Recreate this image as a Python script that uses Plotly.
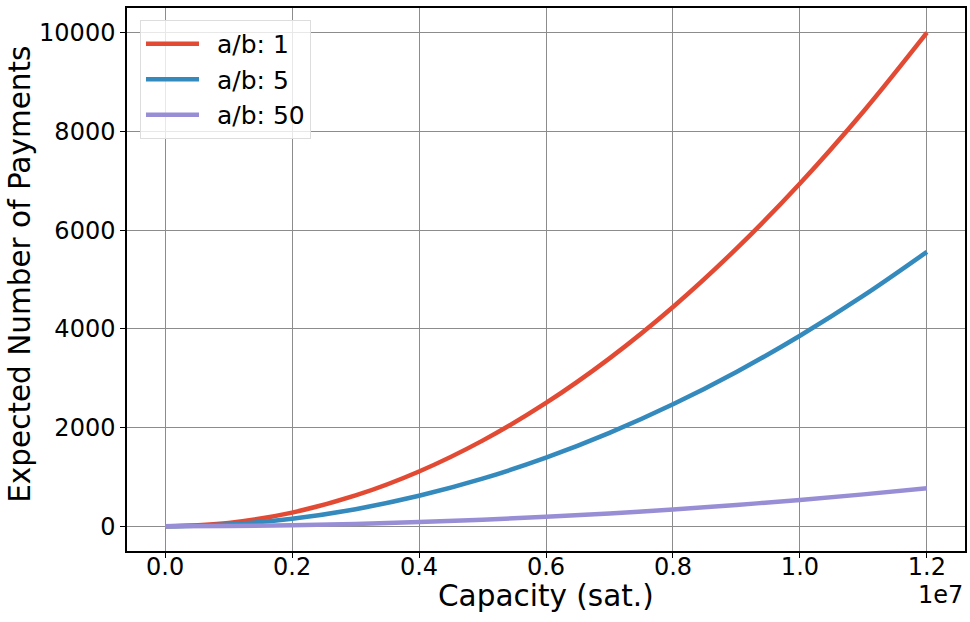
import plotly.graph_objects as go

capacity = [0, 0.1e7, 0.2e7, 0.3e7, 0.4e7, 0.5e7, 0.6e7, 0.7e7, 0.8e7, 0.9e7, 1.0e7, 1.1e7, 1.2e7]
series_names = ["a/b: 1", "a/b: 5", "a/b: 50"]
payments_ab1 = [0, 69, 278, 625, 1111, 1736, 2500, 3403, 4444, 5625, 6944, 8403, 10000]
payments_ab5 = [0, 39, 154, 347, 618, 965, 1390, 1892, 2471, 3127, 3861, 4672, 5560]
payments_ab50 = [0, 5, 21, 48, 86, 134, 193, 262, 342, 433, 535, 647, 770]
colors = ["#E24A33", "#348ABD", "#988ED5"]
x_ticks = [0, 0.2e7, 0.4e7, 0.6e7, 0.8e7, 1.0e7, 1.2e7]
x_tick_labels = ["0.0", "0.2", "0.4", "0.6", "0.8", "1.0", "1.2"]
y_ticks = [0, 2000, 4000, 6000, 8000, 10000]
y_tick_labels = ["0", "2000", "4000", "6000", "8000", "10000"]

fig = go.Figure()
for name, ys, c in zip(series_names, [payments_ab1, payments_ab5, payments_ab50], colors):
    fig.add_trace(go.Scatter(x=capacity, y=ys, mode="lines", name="\u00a0\u2009" + name,
                             line=dict(color=c, width=4.5, shape="spline")))

font = "DejaVu Sans"
fig.update_layout(
    width=970, height=622,
    margin=dict(l=127, r=5, t=8, b=71, autoexpand=False),
    paper_bgcolor="white", plot_bgcolor="white",
    font=dict(family=font, size=24, color="black"),
    showlegend=True,
    legend=dict(x=0.0155, y=0.978, xanchor="left", yanchor="top",
                bgcolor="rgba(255,255,255,0.8)", bordercolor="#dddddd", borderwidth=1,
                font=dict(family=font, size=25), itemwidth=53),
    xaxis=dict(range=[-0.06e7, 1.26e7], tickvals=x_ticks, ticktext=x_tick_labels,
               tickfont=dict(family=font, size=24), ticklabelstandoff=-12,
               showgrid=True, gridcolor="#8c8c8c", gridwidth=1,
               showline=True, linecolor="black", linewidth=1.5, mirror=True,
               ticks="outside", ticklen=5, tickcolor="black", zeroline=False,
               automargin=False),
    yaxis=dict(range=[-500, 10500], tickvals=y_ticks, ticktext=y_tick_labels,
               tickfont=dict(family=font, size=24),
               showgrid=True, gridcolor="#8c8c8c", gridwidth=1,
               showline=True, linecolor="black", linewidth=1.5, mirror=True,
               ticks="outside", ticklen=5, tickcolor="black", zeroline=False,
               automargin=False),
)
fig.add_annotation(text="Capacity (sat.)", xref="paper", yref="paper", x=0.5, y=-0.082,
                   xanchor="center", yanchor="middle", showarrow=False,
                   font=dict(family=font, size=29.5))
fig.add_annotation(text="Expected Number of Payments", xref="paper", yref="paper", x=-0.128, y=0.51,
                   xanchor="center", yanchor="middle", showarrow=False, textangle=-90,
                   font=dict(family=font, size=29.5))
fig.add_annotation(text="1e7", xref="paper", yref="paper", x=1.0, y=-0.081,
                   xanchor="right", yanchor="middle", showarrow=False,
                   font=dict(family=font, size=24))
fig.write_html("out.html", config={"displayModeBar": False},
               post_script="document.body.style.margin='0';document.body.style.overflow='hidden';")
